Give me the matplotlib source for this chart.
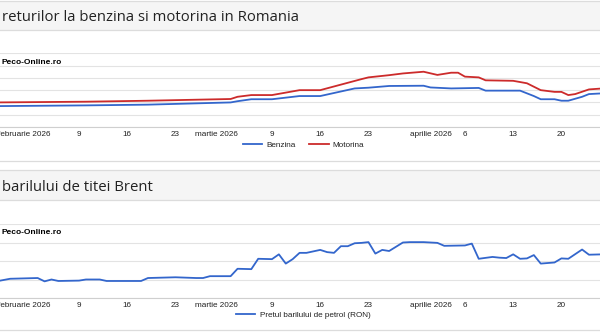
import pandas as pd
import matplotlib.pyplot as plt
import matplotlib.dates as mdates

plt.rcParams['font.family'] = ['Liberation Sans', 'DejaVu Sans']

# preturi carburanti (RON / litru)
benzina_dates = ['2026-01-28', '2026-02-10', '2026-02-19', '2026-03-03', '2026-03-04', '2026-03-06',
                 '2026-03-09', '2026-03-13', '2026-03-16', '2026-03-21', '2026-03-23', '2026-03-26',
                 '2026-03-31', '2026-04-01', '2026-04-04', '2026-04-08', '2026-04-09', '2026-04-14',
                 '2026-04-16', '2026-04-17', '2026-04-19', '2026-04-20', '2026-04-21', '2026-04-23',
                 '2026-04-24', '2026-04-26']
benzina = [7.35, 7.38, 7.41, 7.50, 7.55, 7.63, 7.63, 7.76, 7.76, 8.07, 8.10, 8.17, 8.18, 8.11,
           8.07, 8.09, 7.98, 7.98, 7.76, 7.63, 7.63, 7.57, 7.57, 7.73, 7.84, 7.87]

motorina_dates = ['2026-01-28', '2026-02-10', '2026-02-19', '2026-03-03', '2026-03-04', '2026-03-06',
                  '2026-03-09', '2026-03-13', '2026-03-16', '2026-03-22', '2026-03-23', '2026-03-26',
                  '2026-03-28', '2026-03-31', '2026-04-02', '2026-04-04', '2026-04-05', '2026-04-06',
                  '2026-04-08', '2026-04-09', '2026-04-13', '2026-04-15', '2026-04-17', '2026-04-19',
                  '2026-04-20', '2026-04-21', '2026-04-22', '2026-04-24', '2026-04-26']
motorina = [7.50, 7.53, 7.57, 7.64, 7.73, 7.80, 7.80, 8.00, 8.00, 8.45, 8.52, 8.61, 8.68, 8.75,
            8.62, 8.71, 8.71, 8.55, 8.52, 8.40, 8.38, 8.28, 8.00, 7.93, 7.93, 7.80, 7.84, 8.03, 8.07]

# pretul barilului de petrol (RON)
brent_dates = ['2026-01-28', '2026-01-30', '2026-02-03', '2026-02-04', '2026-02-05', '2026-02-06',
               '2026-02-09', '2026-02-10', '2026-02-12', '2026-02-13', '2026-02-18', '2026-02-19',
               '2026-02-23', '2026-02-26', '2026-02-27', '2026-02-28', '2026-03-03', '2026-03-04',
               '2026-03-06', '2026-03-07', '2026-03-09', '2026-03-10', '2026-03-11', '2026-03-12',
               '2026-03-13', '2026-03-14', '2026-03-16', '2026-03-17', '2026-03-18', '2026-03-19',
               '2026-03-20', '2026-03-21', '2026-03-22', '2026-03-23', '2026-03-24', '2026-03-25',
               '2026-03-26', '2026-03-28', '2026-03-29', '2026-03-31', '2026-04-02', '2026-04-03',
               '2026-04-06', '2026-04-07', '2026-04-08', '2026-04-10', '2026-04-11', '2026-04-12',
               '2026-04-13', '2026-04-14', '2026-04-15', '2026-04-16', '2026-04-17', '2026-04-19',
               '2026-04-20', '2026-04-21', '2026-04-23', '2026-04-24', '2026-04-26']
brent = [295, 302, 304, 295, 300, 296, 297, 300, 300, 296, 296, 304, 306, 304, 304, 309, 309, 329,
         328, 356, 355, 368, 343, 355, 372, 372, 380, 374, 372, 390, 390, 398, 399, 401, 370, 380,
         377, 400, 401, 401, 399, 391, 392, 397, 356, 361, 359, 358, 368, 356, 357, 366, 343, 346,
         357, 356, 381, 367, 368]

tick_dates = ['2026-02-01', '2026-02-09', '2026-02-16', '2026-02-23', '2026-03-01', '2026-03-09',
              '2026-03-16', '2026-03-23', '2026-04-01', '2026-04-06', '2026-04-13', '2026-04-20']
tick_labels = ['februarie 2026', '9', '16', '23', 'martie 2026', '9', '16', '23',
               'aprilie 2026', '6', '13', '20']

W, H = 600, 334
BLUE = '#3366cc'
RED = '#cc2b2b'
GRID = '#e3e3e3'


def box(x0, y0, x1, y1):
    return [x0 / W, 1 - y1 / H, (x1 - x0) / W, (y1 - y0) / H]


fig = plt.figure(figsize=(6, 3.34), dpi=100)

# fundal: benzi de titlu si separatoare
bg = fig.add_axes([0, 0, 1, 1], zorder=-1)
bg.set_xlim(0, W)
bg.set_ylim(H, 0)
bg.axis('off')
for y0, y1 in [(1, 29.5), (170, 200)]:
    bg.axhspan(y0, y1, color='#f5f5f5', lw=0)
for y in [1, 29.5, 161, 170, 200, 330]:
    bg.axhline(y, color='#dcdcdc', lw=0.9)

fig.text(2 / W, 1 - 21 / H, 'returilor la benzina si motorina in Romania', fontsize=10.7,
         family=['Open Sans', 'DejaVu Sans'], color='#222222', va='baseline')
fig.text(2 / W, 1 - 191 / H, 'barilului de titei Brent', fontsize=10.7,
         family=['Open Sans', 'DejaVu Sans'], color='#222222', va='baseline')

x0 = pd.Timestamp('2026-02-01') - pd.Timedelta(days=3.47)
x1 = pd.Timestamp('2026-02-01') + pd.Timedelta(days=83.6)
ticks = pd.to_datetime(tick_dates)


def style(ax, ymin, ymax, step):
    ax.set_xlim(x0, x1)
    ax.set_ylim(ymin, ymax)
    ax.set_yticks([ymin + i * step for i in range(int(round((ymax - ymin) / step)) + 1)])
    ax.set_yticklabels([])
    ax.tick_params(axis='y', length=0)
    ax.set_xticks(ticks)
    ax.set_xticklabels(tick_labels)
    ax.tick_params(axis='x', length=0, pad=3, labelsize=5.9, labelcolor='#222222')
    ax.grid(True, axis='y', color=GRID, lw=0.8)
    for s in ['top', 'left', 'right']:
        ax.spines[s].set_visible(False)
    ax.spines['bottom'].set_color('#cfcfcf')
    ax.spines['bottom'].set_linewidth(0.8)
    ax.set_facecolor('none')


# grafic 1: benzina si motorina
ax1 = fig.add_axes(box(0, 53.3, W, 127))
ax1.plot(pd.to_datetime(benzina_dates), benzina, color=BLUE, lw=1.3, label='Benzina')
ax1.plot(pd.to_datetime(motorina_dates), motorina, color=RED, lw=1.3, label='Motorina')
style(ax1, 6.5, 9.5, 0.5)
ax1.legend(loc='center', bbox_to_anchor=(303.5 / W, 1 - 145 / H), bbox_transform=fig.transFigure,
           ncol=2, frameon=False, fontsize=5.9, handlelength=2.4, columnspacing=1.6,
           handletextpad=0.5, labelcolor='#222222')
fig.text(2 / W, 1 - 62 / H, 'Peco-Online.ro', fontsize=6, fontweight='bold', va='center')

# grafic 2: pretul barilului
ax2 = fig.add_axes(box(0, 224, W, 298))
ax2.plot(pd.to_datetime(brent_dates), brent, color=BLUE, lw=1.3, label='Pretul barilului de petrol (RON)')
style(ax2, 250, 450, 50)
ax2.legend(loc='center', bbox_to_anchor=(303 / W, 1 - 315 / H), bbox_transform=fig.transFigure,
           frameon=False, fontsize=5.9, handlelength=2.4, handletextpad=0.5, labelcolor='#222222')
fig.text(2 / W, 1 - 233 / H, 'Peco-Online.ro', fontsize=6, fontweight='bold', va='center')

fig.savefig('out.png', dpi=100)
